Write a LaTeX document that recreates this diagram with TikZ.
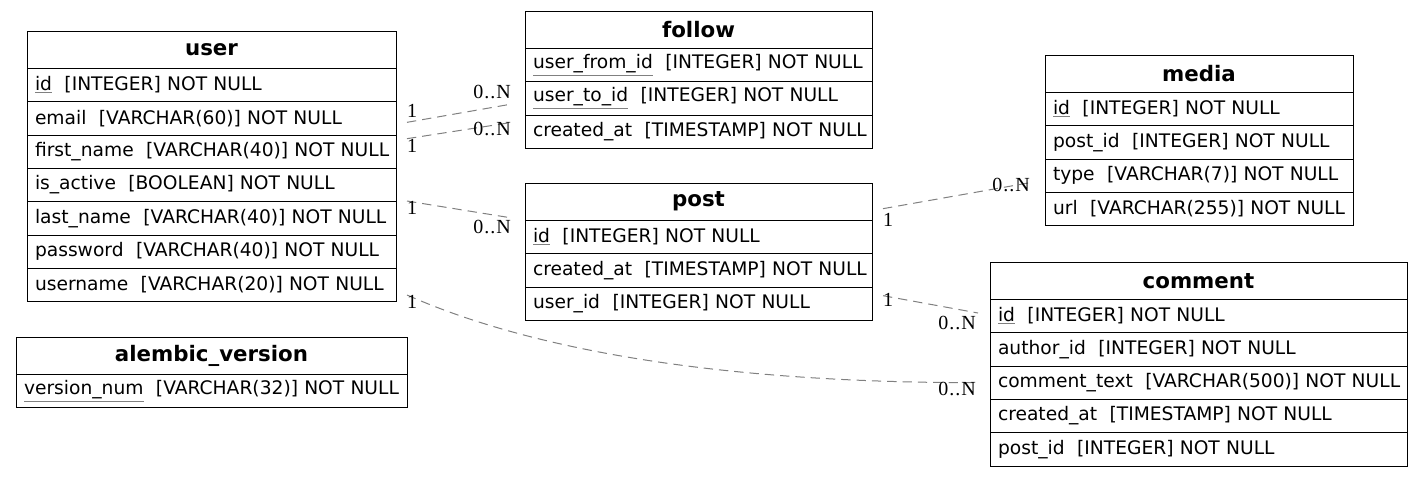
\documentclass[tikz,border=0pt]{standalone}
\usepackage{fontspec}
\setmainfont{DejaVu Sans}
\newfontfamily\cardfont{Liberation Serif}[LetterSpace=5]
\usetikzlibrary{positioning,calc}
\newcommand{\pk}[1]{{\color{gray}\underline{\color{black}#1}}}

\begin{document}
\begin{tikzpicture}[x=0.75pt,y=-0.75pt,font=\fontsize{14}{16}\selectfont,
  tblhead/.style={draw,line width=0.75pt,outer sep=0pt,anchor=north west,font=\fontsize{16}{18}\selectfont\bfseries,inner sep=0pt,minimum width=#1,minimum height=28pt},
  col/.style={draw,line width=0.75pt,outer sep=0pt,align=left,inner xsep=0pt,inner ysep=0pt,text width=#1,minimum height=25pt,execute at begin node={\hspace*{6pt}}},
  rel/.style={draw=gray,dash pattern=on 7pt off 4.5pt,line width=0.75pt},
  card/.style={font=\cardfont\fontsize{15}{17}\selectfont,inner sep=0pt}]
\useasboundingbox (0,0) rectangle (1423,476);
% user
\node[tblhead=276.75pt] (user) at (27,31) {user};
\node[col=276.75pt,below=0pt of user] (user-id) {\pk{id}\ \ [INTEGER] NOT NULL};
\node[col=276.75pt,below=0pt of user-id] (user-email) {email\ \ [VARCHAR(60)] NOT NULL};
\node[col=276.75pt,below=0pt of user-email] (user-first) {first\_name\ \ [VARCHAR(40)] NOT NULL};
\node[col=276.75pt,below=0pt of user-first] (user-active) {is\_active\ \ [BOOLEAN] NOT NULL};
\node[col=276.75pt,below=0pt of user-active] (user-last) {last\_name\ \ [VARCHAR(40)] NOT NULL};
\node[col=276.75pt,below=0pt of user-last] (user-pass) {password\ \ [VARCHAR(40)] NOT NULL};
\node[col=276.75pt,below=0pt of user-pass] (user-uname) {username\ \ [VARCHAR(20)] NOT NULL};
% alembic_version
\node[tblhead=293.25pt] (alembic) at (16,337) {alembic\_version};
\node[col=293.25pt,below=0pt of alembic] (alembic-num) {\pk{version\_num}\ \ [VARCHAR(32)] NOT NULL};
% follow
\node[tblhead=260.25pt] (follow) at (525,11) {follow};
\node[col=260.25pt,below=0pt of follow] (follow-from) {\pk{user\_from\_id}\ \ [INTEGER] NOT NULL};
\node[col=260.25pt,below=0pt of follow-from] (follow-to) {\pk{user\_to\_id}\ \ [INTEGER] NOT NULL};
\node[col=260.25pt,below=0pt of follow-to] (follow-created) {created\_at\ \ [TIMESTAMP] NOT NULL};
% post
\node[tblhead=260.25pt] (post) at (525,183) {post};
\node[col=260.25pt,below=0pt of post] (post-id) {\pk{id}\ \ [INTEGER] NOT NULL};
\node[col=260.25pt,below=0pt of post-id] (post-created) {created\_at\ \ [TIMESTAMP] NOT NULL};
\node[col=260.25pt,below=0pt of post-created] (post-user) {user\_id\ \ [INTEGER] NOT NULL};
% media
\node[tblhead=231pt] (media) at (1045,55) {media};
\node[col=231pt,below=0pt of media] (media-id) {\pk{id}\ \ [INTEGER] NOT NULL};
\node[col=231pt,below=0pt of media-id] (media-post) {post\_id\ \ [INTEGER] NOT NULL};
\node[col=231pt,below=0pt of media-post] (media-type) {type\ \ [VARCHAR(7)] NOT NULL};
\node[col=231pt,below=0pt of media-type] (media-url) {url\ \ [VARCHAR(255)] NOT NULL};
% comment
\node[tblhead=312.75pt] (comment) at (990,262) {comment};
\node[col=312.75pt,below=0pt of comment] (comment-id) {\pk{id}\ \ [INTEGER] NOT NULL};
\node[col=312.75pt,below=0pt of comment-id] (comment-author) {author\_id\ \ [INTEGER] NOT NULL};
\node[col=312.75pt,below=0pt of comment-author] (comment-text) {comment\_text\ \ [VARCHAR(500)] NOT NULL};
\node[col=312.75pt,below=0pt of comment-text] (comment-created) {created\_at\ \ [TIMESTAMP] NOT NULL};
\node[col=312.75pt,below=0pt of comment-created] (comment-post) {post\_id\ \ [INTEGER] NOT NULL};
% relations
\draw[rel] ($(user-email.east)+(11,4)$) -- ($(follow-to.west)+(-15,6)$);
\draw[rel] ($(user-first.east)+(11,-13)$) -- ($(follow-created.west)+(-15,-9)$);
\draw[rel] ($(user-active.east)+(11,16)$) -- ($(post.west)+(-15,16)$);
\draw[rel] ($(user-uname.east)+(11,10)$) .. controls ($(user-uname.east)+(124,60)$) and ($(comment-text.west)+(-290,0)$) .. ($(comment-text.west)+(-14,0)$);
\draw[rel] ($(post.east)+(11,7)$) -- ($(media-type.west)+(-15,7)$);
\draw[rel] ($(post-user.east)+(11,-8)$) -- ($(comment-id.west)+(-12,-3)$);
% cardinalities
\node[card] (one-fa) at (412,111) {1};
\node[card] (many-fa) at (492,92) {0..N};
\node[card] (one-fb) at (412,146) {1};
\node[card] (many-fb) at (492,129) {0..N};
\node[card] (one-p) at (412,208) {1};
\node[card] (many-p) at (492,227) {0..N};
\node[card] (one-c) at (412,302) {1};
\node[card] (many-c) at (957,389) {0..N};
\node[card] (one-m) at (888,220) {1};
\node[card] (many-m) at (1011,185) {0..N};
\node[card] (one-pc) at (888,300) {1};
\node[card] (many-pc) at (957,323) {0..N};
\end{tikzpicture}
\end{document}
